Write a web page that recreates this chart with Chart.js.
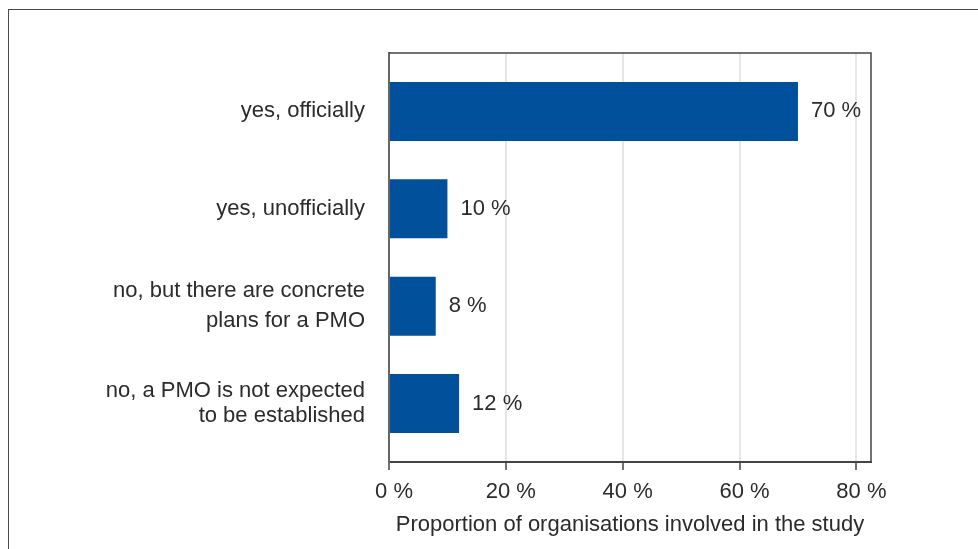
<!DOCTYPE html>
<html>
<head>
<meta charset="utf-8">
<title>PMO</title>
<script src="https://cdn.jsdelivr.net/npm/chart.js@4.4.1/dist/chart.umd.min.js"></script>
<style>
  html, body { margin: 0; padding: 0; background: #fff; }
  #wrap { position: relative; width: 978px; height: 549px; overflow: hidden; }
  #frame {
    position: absolute; left: 8px; top: 9px; right: -5px; bottom: -5px;
    border-left: 1px solid #4a4a4a; border-top: 1px solid #4a4a4a;
  }
  #chartContainer { position: absolute; left: 0; top: 0; }
</style>
</head>
<body>
<div id="wrap">
  <div id="frame"></div>
  <canvas id="chartContainer" width="978" height="549"></canvas>
</div>
<script>
// Số liệu biểu đồ
const categories = [
  ['yes, officially'],
  ['yes, unofficially'],
  ['no, but there are concrete', 'plans for a PMO'],
  ['no, a PMO is not expected', 'to be established']
];
const shares = [70, 10, 8, 12];
const xTicks = [0, 20, 40, 60, 80];
const axisTitle = 'Proportion of organisations involved in the study';

const FONT = "'Liberation Sans', Arial, sans-serif";
const TEXT_COLOR = '#2b2b2b';
const BAR_COLOR = '#00509b';

// Khung trên + phải của vùng vẽ
const plotFrame = {
  id: 'plotFrame',
  afterDraw(chart) {
    const { ctx, chartArea: a } = chart;
    ctx.save();
    ctx.strokeStyle = '#444';
    ctx.lineWidth = 1.5;
    ctx.beginPath();
    ctx.moveTo(a.left, a.top);
    ctx.lineTo(a.right, a.top);
    ctx.lineTo(a.right, a.bottom);
    ctx.stroke();
    ctx.restore();
  }
};

// Nhãn phần trăm bên phải mỗi cột
const valueLabels = {
  id: 'valueLabels',
  afterDatasetsDraw(chart) {
    const { ctx } = chart;
    const meta = chart.getDatasetMeta(0);
    ctx.save();
    ctx.font = '22px ' + FONT;
    ctx.fillStyle = TEXT_COLOR;
    ctx.textAlign = 'left';
    ctx.textBaseline = 'middle';
    meta.data.forEach((bar, i) => {
      ctx.fillText(shares[i] + ' %', bar.x + 13, bar.y);
    });
    ctx.restore();
  }
};

const ctx = document.getElementById('chartContainer').getContext('2d');
new Chart(ctx, {
  type: 'bar',
  data: {
    datasets: [{
      data: shares.map((v, i) => ({ x: v, y: i })),
      backgroundColor: BAR_COLOR,
      borderWidth: 0,
      barPercentage: 0.606,
      categoryPercentage: 1
    }]
  },
  options: {
    indexAxis: 'y',
    responsive: false,
    animation: false,
    layout: { padding: { left: 0, top: 53, right: 107, bottom: 0 } },
    plugins: {
      legend: { display: false },
      tooltip: { enabled: false }
    },
    scales: {
      x: {
        type: 'linear',
        position: 'bottom',
        min: 0,
        max: 82.5,
        afterBuildTicks: scale => { scale.ticks = xTicks.map(v => ({ value: v })); },
        afterFit: scale => { scale.height = 87; },
        ticks: {
          color: TEXT_COLOR,
          font: { family: FONT, size: 22 },
          padding: 9,
          labelOffset: 5,
          maxRotation: 0,
          callback: v => v + ' %'
        },
        grid: {
          color: c => (c.tick && c.tick.value === 0 ? 'rgba(0,0,0,0)' : '#e6e6e6'),
          lineWidth: 2,
          drawTicks: true,
          tickLength: 8,
          tickColor: '#444',
          tickWidth: 1.5
        },
        border: { color: '#444', width: 2 },
        title: {
          display: true,
          text: axisTitle,
          color: TEXT_COLOR,
          font: { family: FONT, size: 22 },
          padding: { top: 0, bottom: 11 }
        }
      },
      y: {
        type: 'linear',
        position: 'left',
        reverse: true,
        offset: false,
        min: -0.6,
        max: 3.6,
        afterFit: scale => { scale.width = 389; },
        ticks: {
          stepSize: 1,
          includeBounds: false,
          color: TEXT_COLOR,
          padding: 24,
          font: c => ({
            family: FONT,
            size: 22,
            lineHeight: c.tick && c.tick.value === 2 ? 1.36 : 1.15
          }),
          callback: v => categories[v] || ''
        },
        grid: { display: false, drawTicks: false, offset: false },
        border: { color: '#666', width: 2 }
      }
    }
  },
  plugins: [plotFrame, valueLabels]
});
</script>
</body>
</html>
